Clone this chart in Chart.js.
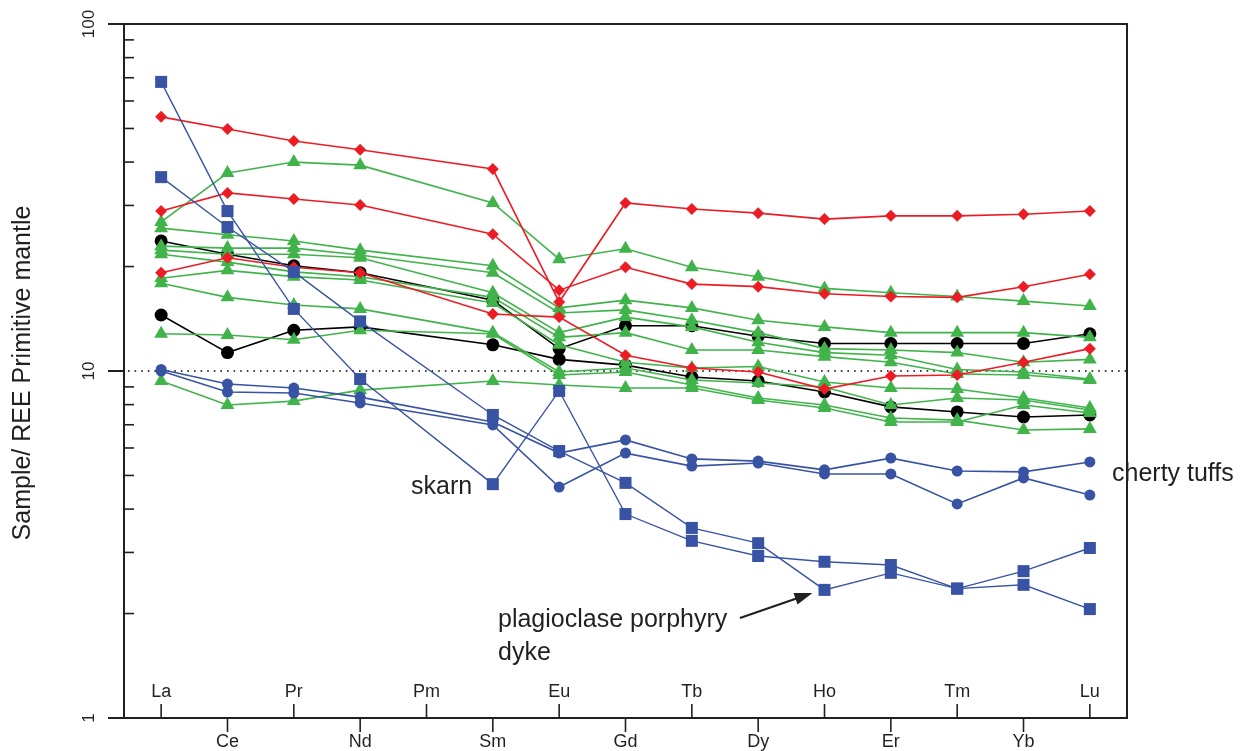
<!DOCTYPE html>
<html>
<head>
<meta charset="utf-8">
<script src="https://cdn.jsdelivr.net/npm/chart.js@4.4.0/dist/chart.umd.min.js"></script>
<style>
  html, body { margin: 0; padding: 0; background: #fff; }
</style>
</head>
<body>
<canvas id="reeChart" width="1248" height="751"></canvas>
<script>
// REE elements along the x axis (Pm has no data, lines skip it)
const elements = ["La", "Ce", "Pr", "Nd", "Pm", "Sm", "Eu", "Gd", "Tb", "Dy", "Ho", "Er", "Tm", "Yb", "Lu"];
const yTicks = [1, 10, 100];

// red diamonds
const redA = [54.0, 49.8, 46.0, 43.4, null, 38.2, 15.8, 30.5, 29.3, 28.5, 27.4, 28.0, 28.0, 28.3, 28.9];
const redB = [28.9, 32.6, 31.3, 30.1, null, 24.8, 17.1, 19.9, 17.8, 17.5, 16.7, 16.4, 16.3, 17.5, 19.0];
const redC = [19.2, 21.2, 19.9, 19.2, null, 14.6, 14.3, 11.1, 10.2, 9.93, 8.87, 9.67, 9.74, 10.6, 11.6];

// black circles
const blackA = [23.7, 21.7, 20.1, 19.2, null, 16.0, 11.6, 13.5, 13.5, 12.6, 12.0, 12.0, 12.0, 12.0, 12.8];
const blackB = [14.5, 11.3, 13.1, 13.4, null, 11.9, 10.8, 10.4, 9.61, 9.36, 8.70, 7.88, 7.62, 7.37, 7.47];

// green triangles
const green1 = [26.9, 37.2, 40.0, 39.2, null, 30.5, 21.0, 22.5, 19.9, 18.7, 17.3, 16.8, 16.4, 15.9, 15.4];
const green2 = [25.8, 24.7, 23.7, 22.3, null, 20.1, 15.2, 16.0, 15.2, 14.0, 13.4, 12.9, 12.9, 12.9, 12.5];
const green3 = [22.9, 22.6, 22.6, 21.6, null, 19.2, 14.7, 15.0, 14.0, 12.9, 11.6, 11.5, 11.3, 10.6, 10.8];
const green4 = [22.3, 21.7, 21.7, 21.2, null, 16.8, 12.9, 14.3, 13.4, 12.1, 11.3, 11.1, 10.1, 9.93, 9.48];
const green5 = [21.7, 20.6, 19.3, 18.7, null, 16.3, 12.5, 12.9, 11.5, 11.5, 11.0, 10.6, 9.80, 9.74, 9.42];
const green6 = [18.5, 19.5, 18.7, 18.3, null, 15.7, 11.9, 10.6, 10.2, 10.3, 9.30, 8.93, 8.87, 8.36, 7.82];
const green7 = [17.9, 16.3, 15.5, 15.1, null, 12.9, 9.93, 10.2, 9.42, 9.23, 8.99, 7.98, 8.36, 8.25, 7.72];
const green8 = [12.8, 12.7, 12.3, 13.1, null, 12.8, 9.74, 9.93, 9.11, 8.36, 7.98, 7.32, 7.22, 6.76, 6.81];
const green9 = [9.36, 7.98, 8.19, 8.81, null, 9.36, 9.11, 8.93, 8.93, 8.25, 7.82, 7.13, 7.13, 7.98, 7.57];

// blue squares (skarn, plagioclase porphyry dyke)
const skarn = [68.1, 28.9, 15.1, 9.48, null, 4.72, 8.76, 3.87, 3.24, 2.93, 2.82, 2.76, 2.36, 2.42, 2.06];
const dyke = [36.2, 26.0, 19.3, 13.9, null, 7.47, 5.88, 4.76, 3.53, 3.19, 2.34, 2.62, 2.36, 2.65, 3.09];

// blue circles (cherty tuffs)
const tuffA = [10.1, 9.17, 8.93, 8.41, null, 7.13, 5.80, 6.33, 5.58, 5.50, 5.19, 5.61, 5.15, 5.12, 5.47];
const tuffB = [10.0, 8.70, 8.64, 8.09, null, 6.99, 4.63, 5.80, 5.32, 5.43, 5.05, 5.05, 4.14, 4.92, 4.39];

const RED = "#ed1c24";
const GREEN = "#40b44b";
const BLUE = "#3953a4";
const BLACK = "#000000";
const INK = "#231f20";
const FONT = "'Liberation Sans', Arial, sans-serif";

function series(values, color, style, radius, width, order) {
  return {
    data: values.map((v, i) => ({ x: i, y: v })),
    borderColor: color,
    backgroundColor: color,
    pointStyle: style,
    pointRadius: radius,
    pointBorderWidth: 0,
    borderWidth: width,
    spanGaps: true,
    tension: 0,
    order: order,
  };
}

const datasets = [
  series(skarn, BLUE, "rect", 8.5, 1.4, 0),
  series(dyke, BLUE, "rect", 8.5, 1.4, 0),
  series(tuffA, BLUE, "circle", 5.5, 1.6, 0),
  series(tuffB, BLUE, "circle", 5.5, 1.6, 0),
  series(redA, RED, "rectRot", 6, 1.6, 1),
  series(redB, RED, "rectRot", 6, 1.6, 1),
  series(redC, RED, "rectRot", 6, 1.6, 1),
  series(green1, GREEN, "triangle", 8, 1.6, 2),
  series(green2, GREEN, "triangle", 8, 1.6, 2),
  series(green3, GREEN, "triangle", 8, 1.6, 2),
  series(green4, GREEN, "triangle", 8, 1.6, 2),
  series(green5, GREEN, "triangle", 8, 1.6, 2),
  series(green6, GREEN, "triangle", 8, 1.6, 2),
  series(green7, GREEN, "triangle", 8, 1.6, 2),
  series(green8, GREEN, "triangle", 8, 1.6, 2),
  series(green9, GREEN, "triangle", 8, 1.6, 2),
  series(blackA, BLACK, "circle", 6.5, 1.6, 3),
  series(blackB, BLACK, "circle", 6.5, 1.6, 3),
];

// axes, frame, dotted 10-line and labels drawn on top of the library scales
const framePlugin = {
  id: "frame",
  beforeDatasetsDraw(chart) {
    const { ctx, chartArea: a, scales: { y } } = chart;
    const py = y.getPixelForValue(10);
    ctx.save();
    ctx.strokeStyle = BLACK;
    ctx.lineWidth = 1.6;
    ctx.setLineDash([1.6, 5]);
    ctx.beginPath();
    ctx.moveTo(a.left + 4, py);
    ctx.lineTo(a.right, py);
    ctx.stroke();
    ctx.restore();
  },
  afterDraw(chart) {
    const { ctx, chartArea: a, scales: { x, y } } = chart;
    ctx.save();
    ctx.strokeStyle = INK;
    ctx.fillStyle = INK;
    ctx.lineWidth = 2;

    ctx.beginPath();
    ctx.rect(a.left, a.top, a.right - a.left, a.bottom - a.top);
    ctx.stroke();

    // y axis: major ticks outside, minor ticks inside
    ctx.font = "17px " + FONT;
    ctx.textAlign = "center";
    ctx.textBaseline = "middle";
    yTicks.forEach((v) => {
      const py = y.getPixelForValue(v);
      ctx.beginPath();
      ctx.moveTo(a.left - 16, py);
      ctx.lineTo(a.left, py);
      ctx.stroke();
      ctx.save();
      ctx.translate(a.left - 35, py);
      ctx.rotate(-Math.PI / 2);
      ctx.fillText(String(v), 0, 0);
      ctx.restore();
    });
    ctx.lineWidth = 1.6;
    [1, 10].forEach((base) => {
      for (let k = 2; k <= 9; k++) {
        const py = y.getPixelForValue(base * k);
        ctx.beginPath();
        ctx.moveTo(a.left, py);
        ctx.lineTo(a.left + 10, py);
        ctx.stroke();
      }
    });

    // x axis: alternating inside / outside ticks and labels
    ctx.font = "18px " + FONT;
    ctx.textBaseline = "alphabetic";
    elements.forEach((el, i) => {
      const px = x.getPixelForValue(i);
      ctx.beginPath();
      if (i % 2 === 0) {
        ctx.moveTo(px, a.bottom);
        ctx.lineTo(px, a.bottom - 14);
        ctx.stroke();
        ctx.fillText(el, px, a.bottom - 21);
      } else {
        ctx.moveTo(px, a.bottom);
        ctx.lineTo(px, a.bottom + 14);
        ctx.stroke();
        ctx.fillText(el, px, a.bottom + 29);
      }
    });

    // y title
    ctx.font = "25px " + FONT;
    ctx.textBaseline = "middle";
    ctx.save();
    ctx.translate(23, (a.top + a.bottom) / 2 + 2);
    ctx.rotate(-Math.PI / 2);
    ctx.fillText("Sample/ REE Primitive mantle", 0, 0);
    ctx.restore();

    // annotations
    ctx.font = "25px " + FONT;
    ctx.textAlign = "left";
    ctx.textBaseline = "alphabetic";
    ctx.fillText("skarn", 411, 494);
    ctx.fillText("cherty tuffs", 1112, 481);
    ctx.fillText("plagioclase porphyry", 498, 627);
    ctx.fillText("dyke", 498, 660);

    // arrow to the dyke sample
    const tipX = x.getPixelForValue(10) - 12;
    const tipY = y.getPixelForValue(dyke[10]) + 3;
    const fromX = 740, fromY = 618;
    const ang = Math.atan2(tipY - fromY, tipX - fromX);
    ctx.strokeStyle = INK;
    ctx.lineWidth = 2.2;
    ctx.beginPath();
    ctx.moveTo(fromX, fromY);
    ctx.lineTo(tipX - 14 * Math.cos(ang), tipY - 14 * Math.sin(ang));
    ctx.stroke();
    ctx.beginPath();
    ctx.moveTo(tipX, tipY);
    ctx.lineTo(tipX - 18 * Math.cos(ang) + 6 * Math.sin(ang), tipY - 18 * Math.sin(ang) - 6 * Math.cos(ang));
    ctx.lineTo(tipX - 18 * Math.cos(ang) - 6 * Math.sin(ang), tipY - 18 * Math.sin(ang) + 6 * Math.cos(ang));
    ctx.closePath();
    ctx.fill();
    ctx.restore();
  },
};

const ctx = document.getElementById("reeChart").getContext("2d");
new Chart(ctx, {
  type: "line",
  data: { datasets: datasets },
  options: {
    responsive: false,
    animation: false,
    devicePixelRatio: 1,
    layout: { padding: { left: 124, right: 121, top: 24, bottom: 33 } },
    plugins: { legend: { display: false }, tooltip: { enabled: false } },
    scales: {
      x: { type: "linear", min: -0.56, max: 14.56, display: false },
      y: { type: "logarithmic", min: 1, max: 100, display: false },
    },
  },
  plugins: [framePlugin],
});
</script>
</body>
</html>
